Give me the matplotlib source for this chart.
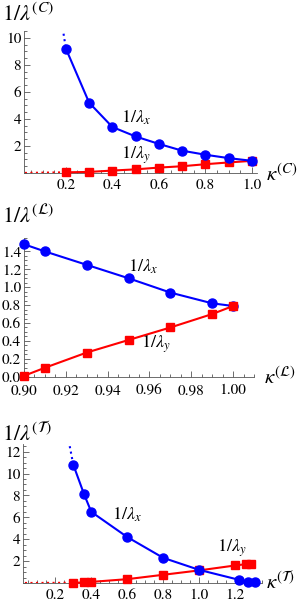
import matplotlib
matplotlib.use("Agg")
import matplotlib.pyplot as plt
from matplotlib.ticker import MultipleLocator, FixedLocator

plt.rcParams["font.family"] = ["STIXGeneral", "DejaVu Serif"]
plt.rcParams["mathtext.fontset"] = "stix"

W, H = 299, 604

# panel C
kc = [0.2, 0.3, 0.4, 0.5, 0.6, 0.7, 0.8, 0.9, 1.0]
c_lx = [9.2, 5.2, 3.4, 2.7, 2.15, 1.65, 1.35, 1.1, 0.9]
c_ly = [0.05, 0.08, 0.18, 0.27, 0.4, 0.5, 0.65, 0.78, 0.9]
c_lx_ext = ([0.19, 0.2], [10.3, 9.2])
c_ly_ext = ([0.0, 0.2], [0.0, 0.05])

# panel L
kl = [0.90, 0.91, 0.93, 0.95, 0.97, 0.99, 1.00]
l_lx = [1.48, 1.40, 1.25, 1.10, 0.94, 0.82, 0.79]
l_ly = [0.01, 0.10, 0.27, 0.41, 0.55, 0.70, 0.79]

# panel T
kt_x = [0.3, 0.36, 0.4, 0.6, 0.8, 1.0, 1.22, 1.27, 1.31]
t_lx = [10.8, 8.1, 6.5, 4.2, 2.3, 1.2, 0.3, 0.12, 0.05]
kt_y = [0.3, 0.36, 0.4, 0.6, 0.8, 1.0, 1.2, 1.26, 1.29]
t_ly = [0.02, 0.05, 0.1, 0.35, 0.75, 1.15, 1.6, 1.72, 1.75]
t_lx_ext = ([0.28, 0.3], [12.5, 10.8])
t_ly_ext = ([0.0, 0.3], [0.0, 0.02])

BLUE = (0, 0, 1)
RED = (1, 0, 0)


def make_axes(fig, left, right, top, bottom):
    return fig.add_axes([left / W, 1 - bottom / H, (right - left) / W, (bottom - top) / H])


def style(ax, xlim, ylim, xmin, ymin, xticks, yticks, fmt_x, fmt_y, xpad=4):
    ax.set_xlim(*xlim)
    ax.set_ylim(*ylim)
    ax.patch.set_alpha(0)
    for s in ["top", "right"]:
        ax.spines[s].set_visible(False)
    for s in ["left", "bottom"]:
        ax.spines[s].set_color("#555555")
        ax.spines[s].set_linewidth(0.6)
    ax.xaxis.set_major_locator(FixedLocator(xticks))
    ax.yaxis.set_major_locator(FixedLocator(yticks))
    ax.xaxis.set_minor_locator(MultipleLocator(xmin))
    ax.yaxis.set_minor_locator(MultipleLocator(ymin))
    ax.set_xticklabels([fmt_x.format(v) for v in xticks])
    ax.set_yticklabels([fmt_y.format(v) for v in yticks])
    ax.tick_params(which="both", direction="in", color="#555555", width=0.6,
                   labelsize=11)
    ax.tick_params(axis="x", pad=xpad)
    ax.tick_params(axis="y", pad=2)
    ax.tick_params(which="major", length=4)
    ax.tick_params(which="minor", length=2)


def draw(ax, xs, ys, color, marker, ms):
    ax.plot(xs, ys, color=color, lw=1.5, marker=marker, ms=ms, clip_on=False, zorder=3)


fig = plt.figure(figsize=(W / 100, H / 100), dpi=100)

# ---- panel 1 ----
ax1 = make_axes(fig, 24, 256.6, 31, 173)
ax1.plot(*c_lx_ext, color=BLUE, lw=1.5, ls=":")
ax1.plot(*c_ly_ext, color=RED, lw=1.5, ls=":")
draw(ax1, kc, c_ly, RED, "s", 5.5)
draw(ax1, kc, c_lx, BLUE, "o", 6.5)
style(ax1, (0.02, 1.02), (0, 10.5), 0.05, 0.5,
      [0.2, 0.4, 0.6, 0.8, 1.0], [2, 4, 6, 8, 10], "{:.1f}", "{:d}")
fig.text(2 / W, 1 - 15 / H, r"$1/\lambda^{(C)}$", fontsize=16, va="center", ha="left")
fig.text(266 / W, 1 - 175 / H, r"$\kappa^{(C)}$", fontsize=15, va="center", ha="left")
ax1.text(0.5, 3.4, r"$1/\lambda_x$", fontsize=13, ha="center", va="bottom")
ax1.text(0.5, 0.5, r"$1/\lambda_y$", fontsize=13, ha="center", va="bottom")

# ---- panel 2 ----
ax2 = make_axes(fig, 24, 254, 238, 376.7)
draw(ax2, kl, l_lx, BLUE, "o", 6.5)
draw(ax2, kl, l_ly, RED, "s", 5.5)
style(ax2, (0.9, 1.01), (0, 1.55), 0.005, 0.05,
      [0.90, 0.92, 0.94, 0.96, 0.98, 1.00], [0.0, 0.2, 0.4, 0.6, 0.8, 1.0, 1.2, 1.4],
      "{:.2f}", "{:.1f}", xpad=5)
fig.text(2 / W, 1 - 217 / H, r"$1/\lambda^{(\mathcal{L})}$", fontsize=16, va="center", ha="left")
fig.text(264 / W, 1 - 378 / H, r"$\kappa^{(\mathcal{L})}$", fontsize=15, va="center", ha="left")
ax2.text(0.957, 1.12, r"$1/\lambda_x$", fontsize=13, ha="center", va="bottom")
ax2.text(0.963, 0.24, r"$1/\lambda_y$", fontsize=13, ha="center", va="bottom")

# ---- panel 3 ----
ax3 = make_axes(fig, 23, 262, 444, 583)
ax3.plot(*t_lx_ext, color=BLUE, lw=1.5, ls=":")
ax3.plot(*t_ly_ext, color=RED, lw=1.5, ls=":")
draw(ax3, kt_y, t_ly, RED, "s", 5.5)
draw(ax3, kt_x, t_lx, BLUE, "o", 6.5)
style(ax3, (0.02, 1.35), (0, 12.7), 0.05, 0.5,
      [0.2, 0.4, 0.6, 0.8, 1.0, 1.2], [2, 4, 6, 8, 10, 12], "{:.1f}", "{:d}")
fig.text(2 / W, 1 - 434 / H, r"$1/\lambda^{(\mathcal{T})}$", fontsize=16, va="center", ha="left")
fig.text(266 / W, 1 - 583 / H, r"$\kappa^{(\mathcal{T})}$", fontsize=15, va="center", ha="left")
ax3.text(0.6, 5.4, r"$1/\lambda_x$", fontsize=13, ha="center", va="bottom")
ax3.text(1.18, 2.2, r"$1/\lambda_y$", fontsize=13, ha="center", va="bottom")

fig.savefig("out.png", dpi=100)
